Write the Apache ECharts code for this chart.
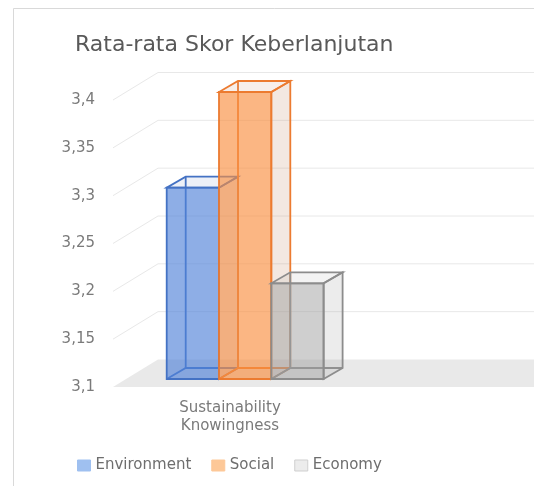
<!DOCTYPE html>
<html><head><meta charset="utf-8">
<script src="https://cdn.jsdelivr.net/npm/echarts@6/dist/echarts.min.js"></script>
<style>html,body{margin:0;padding:0;background:#fff}#c{width:534px;height:486px}</style>
</head><body><div id="c"></div>
<script>
const categories = ['Sustainability\nKnowingness'];
const seriesNames = ['Environment', 'Social', 'Economy'];
const environment = [3.3];
const social = [3.4];
const economy = [3.2];
const yTicks = [3.1, 3.15, 3.2, 3.25, 3.3, 3.35, 3.4];
const chartTitle = 'Rata-rata Skor Keberlanjutan';

const seriesValues = [environment, social, economy];
const FONT = 'DejaVu Sans';
const TXT = '#595959';
const AXT = '#7a7a7a';
const DEPTH = [19, -11];
const styles = [
  {edge: '#4472c4', front: 'rgba(81,130,217,0.65)', side: 'rgba(110,140,200,0.18)', top: 'rgba(110,130,190,0.12)', legend: '#9fc0f0', legendBorder: '#9fc0f0'},
  {edge: '#ec7b30', front: 'rgba(249,143,64,0.65)', side: 'rgba(200,150,120,0.22)', top: 'rgba(200,150,120,0.15)', legend: '#fdc898', legendBorder: '#fdc898'},
  {edge: '#8c8c8c', front: 'rgba(159,159,159,0.5)', side: 'rgba(160,160,160,0.2)', top: 'rgba(160,160,160,0.13)', legend: '#ececec', legendBorder: '#cfcfcf'}
];

function boxRenderer(i) {
  return function (params, api) {
    const cat = api.value(0), v = api.value(1);
    const base = api.coord([cat, yTicks[0]]);
    const topP = api.coord([cat, v]);
    const band = api.size([1, 0])[0];
    const w = band * 0.2235;
    const x0 = base[0] - band * 0.2705 + i * w;
    const x1 = x0 + w;
    const lift = 8;
    const yb = base[1] - lift, yt = topP[1] - lift;
    const dx = DEPTH[0], dy = DEPTH[1];
    const s = styles[i];
    const lw = 1.8;
    const ls = {stroke: s.edge, lineWidth: lw, fill: null};
    return {type: 'group', children: [
      {type: 'polyline', shape: {points: [[x0, yb], [x0 + dx, yb + dy], [x1 + dx, yb + dy]]}, style: ls},
      {type: 'line', shape: {x1: x0 + dx, y1: yb + dy, x2: x0 + dx, y2: yt + dy}, style: ls},
      {type: 'polygon', shape: {points: [[x1, yb], [x1 + dx, yb + dy], [x1 + dx, yt + dy], [x1, yt]]}, style: {fill: s.side, stroke: s.edge, lineWidth: lw}},
      {type: 'polygon', shape: {points: [[x0, yt], [x1, yt], [x1 + dx, yt + dy], [x0 + dx, yt + dy]]}, style: {fill: s.top, stroke: s.edge, lineWidth: lw}},
      {type: 'rect', shape: {x: x0, y: yt, width: w, height: yb - yt}, style: {fill: s.front, stroke: s.edge, lineWidth: lw}}
    ]};
  };
}

function gridRenderer(params, api) {
  const v = api.value(1);
  const p = api.coord([0, v]);
  const x0 = params.coordSys.x, y = p[1];
  const W = api.getWidth();
  if (v === yTicks[0]) {
    return {type: 'polygon', shape: {points: [[x0, y], [x0 + 45, y - 27.5], [W, y - 27.5], [W, y]]}, style: {fill: '#e9e9e9'}};
  }
  return {type: 'polyline', shape: {points: [[x0, y], [x0 + 45, y - 27.5], [W, y - 27.5]]}, style: {stroke: '#e8e8e8', lineWidth: 1, fill: null}};
}

const chart = echarts.init(document.getElementById('c'), null, {renderer: 'canvas'});
const series = [{
  type: 'custom', name: '_grid', z: 1, silent: true,
  renderItem: gridRenderer,
  encode: {x: 0, y: 1},
  data: yTicks.map(v => [0, v])
}];
seriesNames.forEach((n, i) => {
  series.push({
    type: 'custom', name: n, z: 2 + i,
    renderItem: boxRenderer(i),
    encode: {x: 0, y: 1},
    itemStyle: {color: styles[i].legend},
    data: seriesValues[i].map((v, k) => [k, v])
  });
});

chart.setOption({
  animation: false,
  backgroundColor: '#fff',
  title: {
    text: chartTitle, left: 75, top: 34, padding: 0,
    textStyle: {fontFamily: FONT, fontSize: 22, fontWeight: 'normal', color: TXT}
  },
  graphic: [{
    type: 'rect', z: -10, silent: true,
    shape: {x: 13.5, y: 8.5, width: 700, height: 700},
    style: {fill: null, stroke: '#d9d9d9', lineWidth: 1}
  }],
  legend: {
    left: 77, top: 458, padding: 0, itemGap: 20, itemWidth: 13, itemHeight: 11,
    textStyle: {fontFamily: FONT, fontSize: 15, color: '#6e6e6e'},
    data: seriesNames.map((n, i) => ({name: n, icon: 'rect', itemStyle: {color: styles[i].legend, borderColor: styles[i].legendBorder, borderWidth: 1}}))
  },
  grid: {left: 113, right: 187, top: 100, bottom: 99, containLabel: false},
  xAxis: {
    type: 'category', data: categories,
    axisLine: {show: false}, axisTick: {show: false}, splitLine: {show: false},
    axisLabel: {margin: 12, fontFamily: FONT, fontSize: 15, lineHeight: 18, color: AXT}
  },
  yAxis: {
    type: 'value', min: 3.1, max: 3.4, interval: 0.05,
    axisLine: {show: false}, axisTick: {show: false}, splitLine: {show: false},
    axisLabel: {
      margin: 18, fontFamily: FONT, fontSize: 15, color: AXT,
      formatter: v => String(Math.round(v * 100) / 100).replace('.', ',')
    }
  },
  series: series
});
</script>
</body></html>
